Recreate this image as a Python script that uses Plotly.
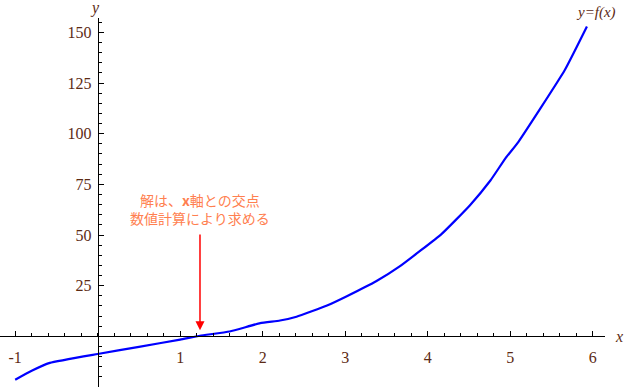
import plotly.graph_objects as go

# Curve data
x_vals = [-1.0, -0.8, -0.58, 0.0, 0.5, 1.0, 1.24, 1.6, 1.97, 2.21, 2.41, 2.78, 3.02, 3.38,
          3.66, 4.17, 4.51, 4.76, 4.94, 5.10, 5.66, 5.93]
y_vals = [-21.4, -17.0, -13.1, -8.7, -5.2, -1.6, 0.3, 2.4, 6.5, 7.8, 9.7, 15.2, 19.8, 27.3,
          34.5, 50.6, 64.6, 76.9, 87.7, 96.0, 131.3, 152.9]

x_ticks = [-1, 1, 2, 3, 4, 5, 6]
x_labels = ["-1", "1", "2", "3", "4", "5", "6"]
y_ticks = [-25, 25, 50, 75, 100, 125, 150]
y_labels = ["-25", "25", "50", "75", "100", "125", "150"]

root_x = 1.24
arrow_tip_y = 3
arrow_tail_y = 51
note_text = "解は、<b>x</b>軸との交点<br>数値計算により求める"

W, H = 625, 392
x_range = [-1.184, 6.149]
y_range = [-25, 157.1]
x_domain = [0, 605 / W]
y_domain = [(H - 387) / H, (H - 18) / H]
# paper position of the data origin
y0_paper = y_domain[0] + (0 - y_range[0]) / (y_range[1] - y_range[0]) * (y_domain[1] - y_domain[0])
x0_paper = x_domain[0] + (0 - x_range[0]) / (x_range[1] - x_range[0]) * (x_domain[1] - x_domain[0])

tick_color = "#5C2A14"
serif = "Liberation Serif, DejaVu Serif"

fig = go.Figure()
fig.add_trace(go.Scatter(x=x_vals, y=y_vals, mode="lines",
                         line=dict(color="#0000FF", width=2.2, shape="spline", smoothing=0.4),
                         hoverinfo="skip"))

fig.update_layout(
    width=W, height=H,
    margin=dict(l=0, r=0, t=0, b=0, autoexpand=False),
    paper_bgcolor="white", plot_bgcolor="white",
    showlegend=False,
    xaxis=dict(
        domain=x_domain, range=x_range, anchor="free", position=y0_paper, automargin=False,
        showgrid=False, zeroline=False, showline=True, linecolor="black", linewidth=1,
        tickvals=x_ticks, ticktext=x_labels, ticks="inside", ticklen=5, tickcolor="black", tickwidth=1,
        minor=dict(dtick=0.2, tick0=0, ticks="inside", ticklen=3, tickcolor="black", tickwidth=1),
        tickfont=dict(family=serif, size=16, color=tick_color),
        ticklabelstandoff=6,
    ),
    yaxis=dict(
        domain=y_domain, range=y_range, anchor="free", position=x0_paper, automargin=False,
        showgrid=False, zeroline=False, showline=True, linecolor="black", linewidth=1,
        tickvals=y_ticks, ticktext=y_labels, ticks="inside", ticklen=5, tickcolor="black", tickwidth=1,
        minor=dict(dtick=5, tick0=0, ticks="inside", ticklen=3, tickcolor="black", tickwidth=1),
        tickfont=dict(family=serif, size=16, color=tick_color),
        ticklabelstandoff=3,
    ),
)

def paper_label(px, py, text, size, family=serif, color=tick_color):
    fig.add_annotation(x=px / W, y=1 - py / H, xref="paper", yref="paper", text=text,
                       xanchor="center", yanchor="middle", showarrow=False, align="center",
                       font=dict(family=family, size=size, color=color))

# axis names and function label
paper_label(619, 336, "<i>x</i>", 16)
paper_label(95, 8, "<i>y</i>", 16)
paper_label(596, 12, "<i>y=f(x)</i>", 15)

# arrow to the root
fig.add_annotation(x=root_x, y=arrow_tip_y, ax=root_x, ay=arrow_tail_y,
                   xref="x", yref="y", axref="x", ayref="y", text="",
                   showarrow=True, arrowhead=2, arrowsize=1.2, arrowwidth=1.5, arrowcolor="#FF0000")
# note text
paper_label(200, 209, note_text, 14, family="Noto Sans CJK JP", color="#FF7F50")

fig.write_html("out.html", config={"displayModeBar": False},
               post_script="document.body.style.margin='0';document.body.style.padding='0';")
